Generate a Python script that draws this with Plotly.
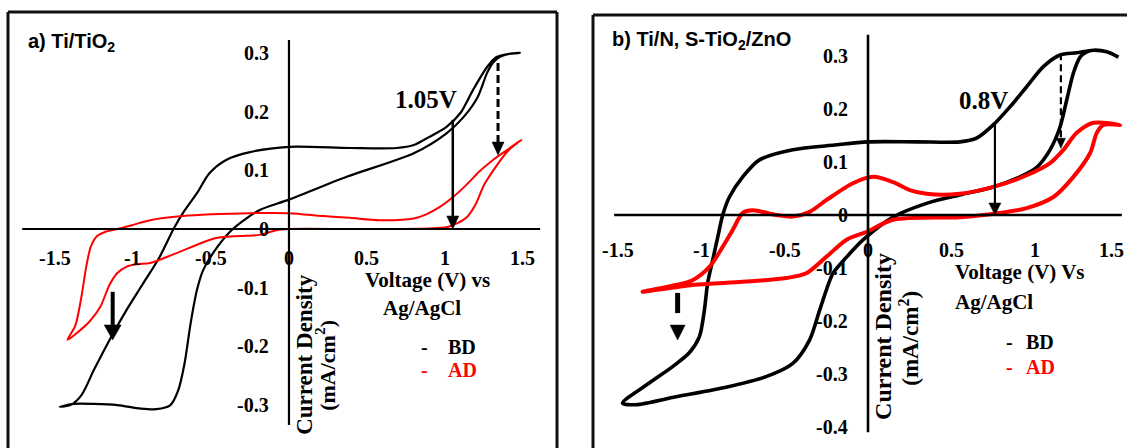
import plotly.graph_objects as go

W, H = 1127, 448

# ---------------- Panel a) Ti/TiO2 ----------------
# BD (black) forward sweep
a_bd_fwd_v = [-1.47, -1.38, -1.25, -1.10, -0.95, -0.85, -0.76, -0.71, -0.67, -0.63, -0.59, -0.55, -0.46, -0.36,
              -0.19, 0.0, 0.37, 0.80, 1.01, 1.12, 1.21, 1.27, 1.31, 1.35, 1.42, 1.48]
a_bd_fwd_j = [-0.303, -0.298, -0.298, -0.300, -0.306, -0.307, -0.300, -0.275, -0.230, -0.160, -0.104, -0.070,
              -0.031, 0.0, 0.032, 0.050, 0.089, 0.129, 0.163, 0.191, 0.225, 0.266, 0.284, 0.293, 0.299, 0.300]
# BD (black) reverse sweep
a_bd_rev_v = [1.48, 1.40, 1.33, 1.27, 1.18, 1.10, 1.01, 0.90, 0.80, 0.69, 0.39, 0.0, -0.25, -0.40, -0.51, -0.59,
              -0.68, -0.74, -0.83, -0.94, -1.05, -1.15, -1.25, -1.33, -1.40, -1.47]
a_bd_rev_j = [0.300, 0.298, 0.293, 0.276, 0.237, 0.198, 0.174, 0.157, 0.143, 0.138, 0.138, 0.140, 0.131, 0.118,
              0.095, 0.061, 0.027, 0.0, -0.048, -0.095, -0.142, -0.189, -0.240, -0.283, -0.300, -0.303]
# AD (red) forward sweep
a_ad_fwd_v = [-1.42, -1.35, -1.28, -1.21, -1.15, -1.10, -1.04, -0.97, -0.89, -0.72, -0.46, -0.19, -0.08, 0.0,
              0.45, 0.90, 1.01, 1.08, 1.14, 1.20, 1.25, 1.31, 1.40, 1.49]
a_ad_fwd_j = [-0.189, -0.175, -0.158, -0.133, -0.095, -0.075, -0.064, -0.060, -0.058, -0.041, -0.015, -0.010,
              -0.002, 0.0, 0.0, 0.001, 0.003, 0.010, 0.020, 0.044, 0.075, 0.100, 0.132, 0.152]
# AD (red) reverse sweep
a_ad_rev_v = [1.49, 1.40, 1.31, 1.22, 1.14, 1.05, 0.97, 0.88, 0.80, 0.58, 0.39, 0.22, 0.0, -0.25, -0.50, -0.68,
              -0.89, -1.00, -1.10, -1.18, -1.23, -1.27, -1.30, -1.33, -1.37, -1.42]
a_ad_rev_j = [0.152, 0.135, 0.118, 0.098, 0.076, 0.054, 0.038, 0.025, 0.018, 0.015, 0.019, 0.022, 0.027, 0.027,
              0.025, 0.022, 0.015, 0.007, 0.0, -0.005, -0.012, -0.030, -0.065, -0.115, -0.165, -0.189]

a_xticks = [-1.5, -1, -0.5, 0, 0.5, 1, 1.5]
a_xtick_labels = ["-1.5", "-1", "-0.5", "0", "0.5", "1", "1.5"]
a_yticks = [0.3, 0.2, 0.1, 0, -0.1, -0.2, -0.3]
a_ytick_labels = ["0.3", "0.2", "0.1", "0", "-0.1", "-0.2", "-0.3"]

# ---------------- Panel b) Ti/N, S-TiO2/ZnO ----------------
b_bd_fwd_v = [-1.47, -1.39, -1.15, -0.85, -0.61, -0.45, -0.35, -0.29, -0.25, -0.21, -0.13, -0.03, 0.15, 0.35,
              0.55, 0.75, 0.91, 1.01, 1.09, 1.15, 1.19, 1.23, 1.27, 1.31]
b_bd_fwd_j = [-0.355, -0.358, -0.343, -0.325, -0.305, -0.280, -0.236, -0.180, -0.142, -0.110, -0.080, -0.047,
              -0.004, 0.022, 0.038, 0.053, 0.072, 0.090, 0.123, 0.166, 0.217, 0.268, 0.298, 0.308]
b_bd_rev_v = [1.31, 1.35, 1.43, 1.50, 1.43, 1.35, 1.25, 1.15, 1.05, 0.95, 0.85, 0.75, 0.65, 0.55, 0.30, 0.0,
              -0.20, -0.45, -0.65, -0.75, -0.83, -0.87, -0.90, -0.93, -0.96, -0.98, -1.01, -1.07, -1.17, -1.31, -1.47]
b_bd_rev_j = [0.308, 0.311, 0.308, 0.298, 0.308, 0.311, 0.306, 0.302, 0.280, 0.242, 0.204, 0.170, 0.145, 0.138,
              0.138, 0.138, 0.132, 0.123, 0.104, 0.072, 0.034, 0.0, -0.042, -0.085, -0.128, -0.180, -0.230,
              -0.260, -0.286, -0.317, -0.355]
b_ad_fwd_v = [-1.35, -1.05, -0.75, -0.49, -0.37, -0.25, -0.13, -0.01, 0.15, 0.55, 0.77, 0.95, 1.11, 1.23, 1.33,
              1.37, 1.41, 1.51]
b_ad_fwd_j = [-0.145, -0.132, -0.126, -0.119, -0.110, -0.079, -0.047, -0.032, -0.009, -0.004, 0.003, 0.013,
              0.034, 0.072, 0.117, 0.155, 0.170, 0.170]
b_ad_rev_v = [1.51, 1.35, 1.25, 1.17, 1.09, 0.95, 0.75, 0.55, 0.35, 0.25, 0.15, 0.03, -0.09, -0.25, -0.35, -0.45,
              -0.55, -0.69, -0.75, -0.81, -0.87, -0.95, -1.05, -1.15, -1.35]
b_ad_rev_j = [0.174, 0.174, 0.155, 0.123, 0.098, 0.075, 0.053, 0.040, 0.040, 0.047, 0.062, 0.072, 0.060, 0.028,
              0.006, -0.003, 0.0, 0.009, 0.004, -0.028, -0.060, -0.098, -0.123, -0.132, -0.145]

b_xticks = [-1.5, -1, -0.5, 0, 0.5, 1, 1.5]
b_xtick_labels = ["-1.5", "-1", "-0.5", "0", "0.5", "1", "1.5"]
b_yticks = [0.3, 0.2, 0.1, 0, -0.1, -0.2, -0.3, -0.4]
b_ytick_labels = ["0.3", "0.2", "0.1", "0", "-0.1", "-0.2", "-0.3", "-0.4"]

BLACK = "#000000"
RED = "#ff0000"
SERIF = "Liberation Serif, Times New Roman, serif"
SANS = "Liberation Sans, Arial, sans-serif"

# pixel scale of each panel (px per V, px per mA/cm2), used for arrowhead sizes
A_SX, A_SY = 156.0, 587.0
B_SX, B_SY = 167.0, 530.0

fig = go.Figure()


def add_loop(v1, j1, v2, j2, color, width, xa, ya, name):
    fig.add_trace(go.Scatter(
        x=v1 + v2[1:], y=j1 + j2[1:], mode="lines", name=name, showlegend=False,
        line=dict(color=color, width=width, shape="spline", smoothing=0.8),
        xaxis=xa, yaxis=ya, hoverinfo="skip"))


add_loop(a_bd_fwd_v, a_bd_fwd_j, a_bd_rev_v, a_bd_rev_j, BLACK, 2.2, "x", "y", "BD")
add_loop(a_ad_fwd_v, a_ad_fwd_j, a_ad_rev_v, a_ad_rev_j, RED, 2.0, "x", "y", "AD")
add_loop(b_bd_fwd_v, b_bd_fwd_j, b_bd_rev_v, b_bd_rev_j, BLACK, 3.6, "x2", "y2", "BD")
add_loop(b_ad_fwd_v, b_ad_fwd_j, b_ad_rev_v, b_ad_rev_j, RED, 4.0, "x2", "y2", "AD")

shapes = []
annotations = []


def px_x(p):
    return p / W


def px_y(p):
    return 1 - p / H


# panel borders
for (x0, y0, x1, y1) in [(8, 12, 8, 460), (8, 12, 557, 12), (557, 12, 557, 460),
                         (593, 15, 593, 460), (593, 15, 1130, 15)]:
    shapes.append(dict(type="line", xref="paper", yref="paper",
                       x0=px_x(x0), y0=px_y(y0), x1=px_x(x1), y1=px_y(y1),
                       line=dict(color="#111111", width=3)))

# axis lines crossing at origin
shapes += [
    dict(type="line", xref="x", yref="y", x0=-1.71, x1=1.61, y0=0, y1=0, line=dict(color=BLACK, width=2.2)),
    dict(type="line", xref="x", yref="y", x0=0, x1=0, y0=0.322, y1=-0.334, line=dict(color=BLACK, width=2.2)),
    dict(type="line", xref="x2", yref="y2", x0=-1.52, x1=1.52, y0=0, y1=0, line=dict(color=BLACK, width=2.6)),
    dict(type="line", xref="x2", yref="y2", x0=0, x1=0, y0=0.34, y1=-0.41, line=dict(color=BLACK, width=2.6)),
]


def down_arrow(xref, yref, sx, sy, x, y_tail, y_tip, width, head_w, head_h, dash="solid", gap_px=0):
    """vertical downward arrow: shaft + triangular head (sizes in pixels)"""
    hb = y_tip + head_h / sy
    hw = head_w / 2.0 / sx
    out = []
    if y_tail is not None:
        out.append(dict(type="line", xref=xref, yref=yref, x0=x, x1=x, y0=y_tail, y1=hb + gap_px / sy,
                        line=dict(color=BLACK, width=width, dash=dash)))
    out.append(dict(type="path", xref=xref, yref=yref,
                    path="M %f,%f L %f,%f L %f,%f Z" % (x - hw, hb, x + hw, hb, x, y_tip),
                    fillcolor=BLACK, line=dict(color=BLACK, width=0.5)))
    return out


shapes += down_arrow("x", "y", A_SX, A_SY, 1.05, 0.186, 0.0, 2.5, 12, 13)
shapes += down_arrow("x", "y", A_SX, A_SY, -1.13, -0.107, -0.189, 4.0, 17, 15)
shapes += down_arrow("x", "y", A_SX, A_SY, 1.34, 0.283, 0.126, 3.0, 12, 13, dash="8px,4px")
shapes += down_arrow("x2", "y2", B_SX, B_SY, 0.76, 0.17, 0.0, 2.2, 12, 12)
shapes += down_arrow("x2", "y2", B_SX, B_SY, 1.155, 0.305, 0.126, 2.2, 9, 10, dash="7px,4px")
# left dashed arrow of panel b: one short bar, a gap, then the head
shapes.append(dict(type="line", xref="x2", yref="y2", x0=-1.14, x1=-1.14, y0=-0.147, y1=-0.185,
                   line=dict(color=BLACK, width=5)))
shapes += down_arrow("x2", "y2", B_SX, B_SY, -1.14, None, -0.236, 3.0, 15, 15)

tick_font = dict(family=SERIF, size=20, color=BLACK)

# panel a tick labels
for v, t in zip(a_xticks, a_xtick_labels):
    annotations.append(dict(x=v, y=-0.049, xref="x", yref="y", text="<b>%s</b>" % t, showarrow=False,
                            xanchor="center", yanchor="middle", font=tick_font))
for j, t in zip(a_yticks, a_ytick_labels):
    annotations.append(dict(x=-0.115, y=j, xref="x", yref="y", text="<b>%s</b>" % t, showarrow=False,
                            xanchor="right", yanchor="middle", font=tick_font))
# panel b tick labels (last one is at the window edge)
for v, t in zip(b_xticks, b_xtick_labels):
    if v == b_xticks[-1]:
        annotations.append(dict(x=1.545, y=-0.066, xref="x2", yref="y2", text="<b>%s</b>" % t,
                                showarrow=False, xanchor="right", yanchor="middle", font=tick_font))
    else:
        annotations.append(dict(x=v, y=-0.066, xref="x2", yref="y2", text="<b>%s</b>" % t, showarrow=False,
                                xanchor="center", yanchor="middle", font=tick_font))
for j, t in zip(b_yticks, b_ytick_labels):
    annotations.append(dict(x=-0.11, y=j, xref="x2", yref="y2", text="<b>%s</b>" % t, showarrow=False,
                            xanchor="right", yanchor="middle", font=tick_font))

lab_font = dict(family=SERIF, size=21, color=BLACK)

# axis titles and legends, panel a
annotations += [
    dict(x=0.885, y=-0.087, xref="x", yref="y", text="<b>Voltage (V) vs</b>", showarrow=False,
         xanchor="center", yanchor="middle", font=lab_font),
    dict(x=0.85, y=-0.135, xref="x", yref="y", text="<b>Ag/AgCl</b>", showarrow=False,
         xanchor="center", yanchor="middle", font=lab_font),
    dict(x=0.10, y=-0.215, xref="x", yref="y", text="<b>Current Density</b>", showarrow=False,
         textangle=-90, xanchor="center", yanchor="middle", font=dict(family=SERIF, size=23, color=BLACK)),
    dict(x=0.235, y=-0.232, xref="x", yref="y", text="<b>(mA/cm<sup>2</sup>)</b>", showarrow=False,
         textangle=-90, xanchor="center", yanchor="middle", font=dict(family=SERIF, size=22, color=BLACK)),
    dict(x=0.87, y=-0.201, xref="x", yref="y", text="<b>-</b>", showarrow=False,
         font=dict(family=SERIF, size=20, color=BLACK)),
    dict(x=1.11, y=-0.201, xref="x", yref="y", text="<b>BD</b>", showarrow=False,
         font=dict(family=SERIF, size=20, color=BLACK)),
    dict(x=0.87, y=-0.240, xref="x", yref="y", text="<b>-</b>", showarrow=False,
         font=dict(family=SERIF, size=20, color=RED)),
    dict(x=1.11, y=-0.240, xref="x", yref="y", text="<b>AD</b>", showarrow=False,
         font=dict(family=SERIF, size=20, color=RED)),
    dict(x=0.88, y=0.22, xref="x", yref="y", text="<b>1.05V</b>", showarrow=False,
         font=dict(family=SERIF, size=25, color=BLACK)),
]
# panel b
annotations += [
    dict(x=0.51, y=-0.107, xref="x2", yref="y2", text="<b>Voltage (V) Vs</b>", showarrow=False,
         xanchor="left", yanchor="middle", font=lab_font),
    dict(x=0.51, y=-0.164, xref="x2", yref="y2", text="<b>Ag/AgCl</b>", showarrow=False,
         xanchor="left", yanchor="middle", font=lab_font),
    dict(x=0.09, y=-0.23, xref="x2", yref="y2", text="<b>Current Density</b>", showarrow=False,
         textangle=-90, xanchor="center", yanchor="middle", font=dict(family=SERIF, size=24, color=BLACK)),
    dict(x=0.25, y=-0.232, xref="x2", yref="y2", text="<b>(mA/cm<sup>2</sup>)</b>", showarrow=False,
         textangle=-90, xanchor="center", yanchor="middle", font=dict(family=SERIF, size=23, color=BLACK)),
    dict(x=0.85, y=-0.24, xref="x2", yref="y2", text="<b>-</b>", showarrow=False,
         font=dict(family=SERIF, size=20, color=BLACK)),
    dict(x=1.03, y=-0.24, xref="x2", yref="y2", text="<b>BD</b>", showarrow=False,
         font=dict(family=SERIF, size=20, color=BLACK)),
    dict(x=0.85, y=-0.287, xref="x2", yref="y2", text="<b>-</b>", showarrow=False,
         font=dict(family=SERIF, size=20, color=RED)),
    dict(x=1.03, y=-0.287, xref="x2", yref="y2", text="<b>AD</b>", showarrow=False,
         font=dict(family=SERIF, size=20, color=RED)),
    dict(x=0.69, y=0.217, xref="x2", yref="y2", text="<b>0.8V</b>", showarrow=False,
         font=dict(family=SERIF, size=25, color=BLACK)),
]

# panel titles
annotations += [
    dict(x=px_x(26), y=px_y(42), xref="paper", yref="paper", text="<b>a) Ti/TiO<sub>2</sub></b>",
         showarrow=False, xanchor="left", yanchor="middle", font=dict(family=SANS, size=20, color=BLACK)),
    dict(x=px_x(610), y=px_y(40), xref="paper", yref="paper", text="<b>b) Ti/N, S-TiO<sub>2</sub>/ZnO</b>",
         showarrow=False, xanchor="left", yanchor="middle", font=dict(family=SANS, size=20, color=BLACK)),
]

fig.update_layout(
    width=W, height=H,
    margin=dict(l=0, r=0, t=0, b=0),
    paper_bgcolor="white", plot_bgcolor="white",
    showlegend=False,
    xaxis=dict(domain=[8 / W, 557 / W], range=[-1.801, 1.718], visible=False, anchor="y"),
    yaxis=dict(domain=[0, 436 / H], range=[-0.3731, 0.3697], visible=False, anchor="x"),
    xaxis2=dict(domain=[593 / W, 1.0], range=[-1.6467, 1.5509], visible=False, anchor="y2"),
    yaxis2=dict(domain=[0, 433 / H], range=[-0.4396, 0.3774], visible=False, anchor="x2"),
    shapes=shapes,
    annotations=annotations,
)

fig.write_html("out.html")
